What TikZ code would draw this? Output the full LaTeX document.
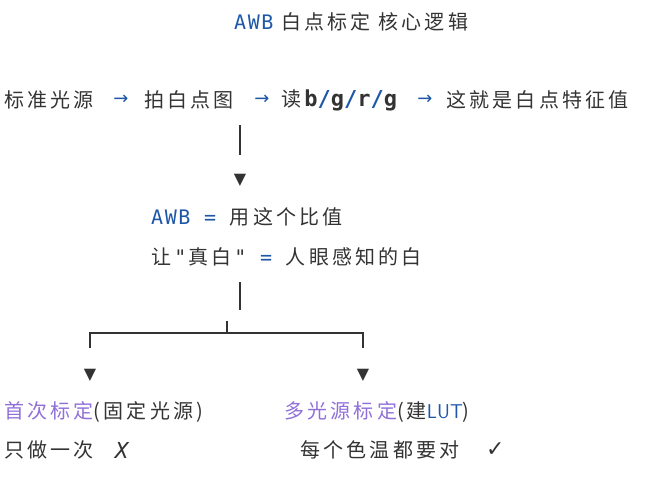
\documentclass[tikz,border=0pt]{standalone}
\usepackage{fontspec}
\setmainfont{Noto Sans CJK SC}[LetterSpace=16]
\setmonofont{DejaVu Sans Mono}[LetterSpace=8]
\newfontfamily\symf{DejaVu Sans}
\definecolor{kw}{HTML}{1F57A8}
\definecolor{pu}{HTML}{9070D8}
\definecolor{tx}{HTML}{333333}
\begin{document}
\begin{tikzpicture}[x=1pt,y=-1pt,
  t/.style={anchor=west,inner sep=0pt,text=tx,font=\fontsize{20}{22}\selectfont},
  ar/.style={inner sep=0pt,text=kw,font=\symf\fontsize{18}{19}\selectfont},
  ln/.style={draw=tx,line width=1.2pt},
  tri/.style={inner sep=0pt,text=tx,font=\symf\fontsize{16}{17}\selectfont}]
\useasboundingbox (0,0) rectangle (652,487);
\node[t] (title) at (234,22) {\texttt{\color{kw}AWB} 白点标定\ 核心逻辑};
\node[t] (s1) at (4,100) {标准光源};
\node[ar] (r1) at (121,100) {→};
\node[t] (s2) at (144,100) {拍白点图};
\node[ar] (r2) at (262,100) {→};
\node[t] (s3) at (281,100) {读{\fontsize{22}{22}\selectfont\texttt{\bfseries b{\color{kw}/}g{\color{kw}/}r{\color{kw}/}g}}};
\node[ar] (r3) at (425,100) {→};
\node[t] (s4) at (446,100) {这就是白点特征值};
\coordinate (v1a) at (240,125); \coordinate (v1b) at (240,155);
\draw[ln] (v1a) -- (v1b);
\node[tri] (a1) at (240,180) {▼};
\node[t] (l2) at (151,217) {\texttt{\color{kw}AWB = }用这个比值};
\node[t] (l3) at (151,257) {让\texttt{"}真白\texttt{" {\color{kw}=} }人眼感知的白};
\coordinate (v2a) at (240,282); \coordinate (v2b) at (240,310);
\draw[ln] (v2a) -- (v2b);
\coordinate (hl) at (90,333); \coordinate (hr) at (363,333);
\coordinate (tk) at (227,321); \coordinate (tkb) at (227,333);
\coordinate (dl) at (90,348); \coordinate (dr) at (363,348);
\draw[ln] (dl) -- (hl) -- (hr) -- (dr);
\draw[ln] (tk) -- (tkb);
\node[tri] (a2) at (90,375) {▼};
\node[tri] (a3) at (363,375) {▼};
\node[t] (b1) at (4,412) {{\color{pu}首次标定}(固定光源)};
\node[t] (b2) at (284,412) {{\color{pu}多光源标定}(建{\sffamily\color{kw}LUT})};
\node[t] (c1) at (4,450) {只做一次};
\node[t] (x1) at (115,450) {\fontsize{22}{22}\selectfont\textit{\texttt{X}}};
\node[t] (c2) at (300,450) {每个色温都要对};
\node[t] (k2) at (486,450) {\symf\fontsize{22}{22}\selectfont ✓};
\end{tikzpicture}
\end{document}
